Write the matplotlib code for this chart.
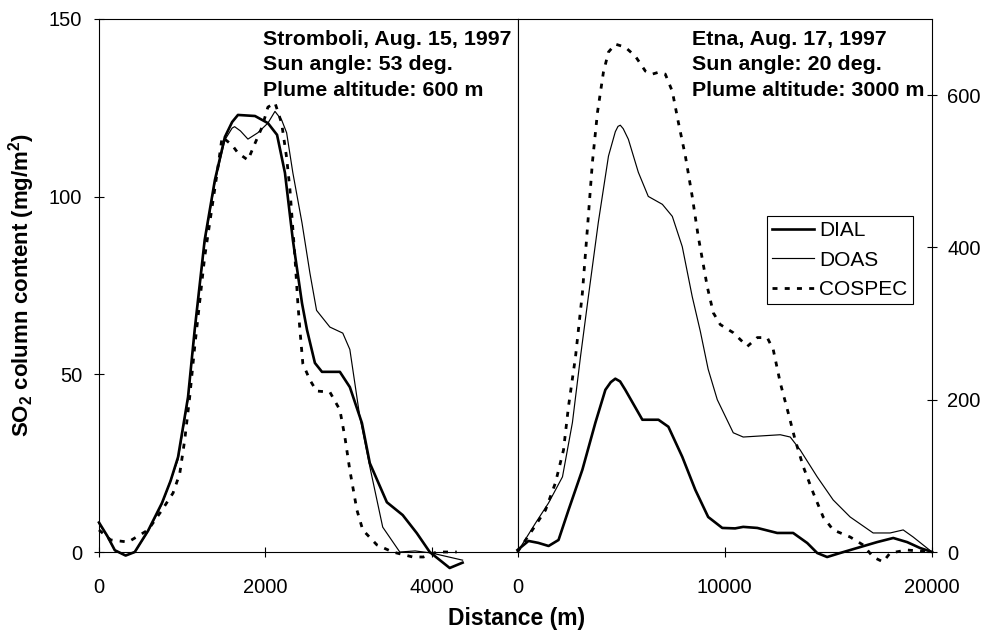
import matplotlib
matplotlib.use('Agg')
import matplotlib.pyplot as plt

plt.rcParams['font.family'] = ['Liberation Sans', 'DejaVu Sans']
plt.rcParams['mathtext.fontset'] = 'custom'
plt.rcParams['mathtext.rm'] = 'Liberation Sans'
plt.rcParams['mathtext.bf'] = 'Liberation Sans:bold'

# ---------------- data: Stromboli (left panel, mg/m2) ----------------
strom_dial_x = [0, 100, 190, 320, 430, 590, 757, 860, 950, 1070, 1150, 1270, 1393, 1513,
                1600, 1670, 1875, 2030, 2140, 2235, 2330, 2440, 2500, 2595, 2680, 2895,
                3015, 3160, 3255, 3460, 3650, 3820, 3975, 4215, 4370]
strom_dial_y = [8.3, 4.5, 0.5, -1.0, 0.0, 6.0, 13.8, 20.0, 26.7, 43.6, 62.5, 87.8, 104.7, 116.8,
                121.0, 123.0, 122.7, 120.7, 117.4, 106.7, 87.8, 70.0, 62.5, 53.2, 50.7, 50.7,
                46.4, 36.3, 25.0, 14.0, 10.4, 5.3, 0.0, -4.5, -3.0]

strom_doas_x = [0, 100, 190, 320, 430, 590, 757, 950, 1070, 1150, 1270, 1393, 1513, 1600,
                1630, 1700, 1790, 1910, 2030, 2115, 2195, 2255, 2330, 2440, 2535, 2615,
                2775, 2930, 3015, 3135, 3255, 3410, 3615, 3800, 4000, 4370]
strom_doas_y = [8.0, 4.3, 0.4, -1.0, 0.0, 5.8, 13.5, 26.0, 43.0, 62.0, 87.0, 104.0, 116.0, 119.3,
                119.7, 118.5, 116.2, 118.0, 120.7, 124.0, 121.6, 118.0, 106.7, 92.6, 78.5, 68.0,
                63.3, 61.6, 57.0, 38.0, 24.0, 7.0, 0.0, 0.3, -0.3, -2.3]

strom_cospec_x = [0, 140, 350, 590, 757, 890, 970, 1030, 1090, 1150, 1270, 1420, 1480, 1600,
                  1670, 1790, 1875, 1960, 2030, 2115, 2195, 2255, 2295, 2355, 2390, 2415,
                  2450, 2535, 2615, 2775, 2895, 2955, 3015, 3100, 3170, 3340, 3530, 3770,
                  3900, 4060, 4300]
strom_cospec_y = [6.2, 3.4, 2.8, 6.2, 11.8, 16.6, 22.0, 31.5, 43.6, 57.7, 83.0, 106.7, 116.8, 114.5,
                  112.3, 110.3, 115.0, 119.6, 125.2, 126.4, 120.7, 111.0, 102.0, 83.0, 70.0, 62.5,
                  53.0, 48.4, 45.3, 45.0, 40.0, 32.4, 23.0, 11.8, 6.2, 2.0, 0.0, -1.4,
                  -1.4, 0.0, 0.0]

# ---------------- data: Etna (right panel, mg/m2) ----------------
etna_dial_x = [0, 530, 1000, 1500, 1980, 2460, 3130, 3760, 4240, 4500, 4720, 4950, 5200, 6025, 6800,
               7280, 7950, 8580, 9200, 9880, 10500, 10890, 11570, 12530, 13300, 13980, 14460,
               14940, 15570, 16390, 17350, 18130, 18800, 19420, 20000]
etna_dial_y = [2.6, 14.5, 12.0, 7.9, 15.8, 55.0, 108.0, 170.0, 213.0, 223.0, 227.6, 224.0, 213.0, 173.7, 173.7,
               164.5, 125.0, 81.6, 46.0, 31.6, 31.0, 33.0, 31.6, 25.0, 25.0, 11.8, -1.3,
               -6.6, -1.3, 5.3, 13.0, 18.4, 13.0, 5.3, 0.0]

etna_doas_x = [0, 870, 1500, 2170, 2650, 3040, 3420, 3900, 4390, 4720, 4850, 4960, 5100, 5350, 5830,
               6310, 6990, 7470, 7950, 8430, 8820, 9200, 9640, 10410, 10890, 12680, 13160, 13640,
               14460, 15230, 16050, 17160, 17980, 18610, 19090, 20000]
etna_doas_y = [0.0, 38.0, 64.5, 98.7, 170.0, 256.6, 335.5, 433.0, 520.0, 552.0, 559.0, 560.5, 556.0, 542.0, 498.7,
               467.0, 456.6, 440.8, 401.0, 335.5, 290.0, 240.0, 200.0, 156.6, 151.0, 154.0, 151.0, 134.0,
               98.7, 68.4, 46.0, 25.0, 25.0, 29.0, 19.7, 0.0]

etna_cospec_x = [0, 720, 1350, 1830, 2220, 2460, 2800, 3130, 3370, 3615, 3860, 4145, 4390, 4720,
                 5200, 5690, 6170, 6500, 6800, 7130, 7470, 7760, 8100, 8430, 8720, 9160, 9450,
                 9785, 10410, 11090, 11570, 12050, 12340, 12680, 13060, 13400, 13790, 14270,
                 14750, 15230, 16050, 16680, 17160, 17640, 17980, 18800, 20000]
etna_cospec_y = [0.0, 29.0, 55.0, 90.8, 134.0, 191.0, 256.6, 340.0, 423.7, 512.0, 577.6, 630.0, 656.6, 667.0,
                 663.0, 651.0, 631.6, 627.6, 630.0, 627.6, 605.0, 564.5, 520.0, 467.0, 414.5, 348.0, 314.0,
                 298.7, 288.0, 270.0, 281.6, 281.6, 265.8, 222.0, 183.0, 147.0, 112.0, 77.6,
                 46.0, 29.0, 19.7, 9.2, -6.6, -13.0, -1.3, 2.6, 0.0]

series_names = ['DIAL', 'DOAS', 'COSPEC']
left_xticks = [0, 2000, 4000]
left_yticks = [0, 50, 100, 150]
right_xticks = [0, 10000, 20000]
right_yticks = [0, 200, 400, 600]
left_text = ['Stromboli, Aug. 15, 1997', 'Sun angle: 53 deg.', 'Plume altitude: 600 m']
right_text = ['Etna, Aug. 17, 1997', 'Sun angle: 20 deg.', 'Plume altitude: 3000 m']

# ---------------- figure ----------------
W, H = 983, 631
fig = plt.figure(figsize=(W / 100, H / 100), dpi=100)


def px_box(x0, x1, y_top, y_bot):
    return [x0 / W, 1 - y_bot / H, (x1 - x0) / W, (y_bot - y_top) / H]


ax1 = fig.add_axes(px_box(99, 517.5, 19, 552))
ax2 = fig.add_axes(px_box(517.5, 932, 19, 552))

styles = {
    'DIAL': dict(color='black', lw=1.9, ls='-'),
    'DOAS': dict(color='black', lw=0.85, ls='-'),
    'COSPEC': dict(color='black', lw=2.0, ls=(0, (1.8, 2.6))),
}

ax1.plot(strom_dial_x, strom_dial_y, clip_on=False, **styles['DIAL'])
ax1.plot(strom_doas_x, strom_doas_y, clip_on=False, **styles['DOAS'])
ax1.plot(strom_cospec_x, strom_cospec_y, clip_on=False, **styles['COSPEC'])

h1, = ax2.plot(etna_dial_x, etna_dial_y, clip_on=False, label='DIAL', **styles['DIAL'])
h2, = ax2.plot(etna_doas_x, etna_doas_y, clip_on=False, label='DOAS', **styles['DOAS'])
h3, = ax2.plot(etna_cospec_x, etna_cospec_y, clip_on=False, label='COSPEC', **styles['COSPEC'])

ax1.set_xlim(0, 5030)
ax1.set_ylim(0, 150)
ax2.set_xlim(0, 20000)
ax2.set_ylim(0, 700)

for ax in (ax1, ax2):
    for sp in ax.spines.values():
        sp.set_linewidth(0.8)
        sp.set_color('black')
    ax.tick_params(axis='x', direction='inout', length=7, width=0.8, pad=15, labelsize=14.5)

ax1.set_xticks(left_xticks)
ax1.set_yticks(left_yticks)
ax1.tick_params(axis='y', direction='inout', length=7, width=0.8, pad=8.7, labelsize=14.5)
ax2.set_xticks(right_xticks)
ax2.set_yticks(right_yticks)
ax2.yaxis.tick_right()
ax2.tick_params(axis='y', direction='inout', length=7, width=0.8, pad=7.3, labelsize=14.5)

# annotations
baselines = [45, 70.5, 95.5]
for txt, yb in zip(left_text, baselines):
    fig.text(263 / W, 1 - yb / H, txt, ha='left', va='baseline', fontsize=15.4, fontweight='bold')
for txt, yb in zip(right_text, baselines):
    fig.text(692 / W, 1 - yb / H, txt, ha='left', va='baseline', fontsize=15.4, fontweight='bold')

# axis labels
fig.text(22 / W, 1 - 285 / H, r'SO$_\mathbf{2}$ column content (mg/m$^\mathbf{2}$)',
         rotation=90, ha='center', va='center', fontsize=16, fontweight='bold')
fig.text(517 / W, 1 - 625 / H, 'Distance (m)', ha='center', va='baseline',
         fontsize=16.5, fontweight='bold')

leg = ax2.legend(handles=[h1, h2, h3], labels=series_names, loc='upper left',
                 bbox_to_anchor=(767 / W, 1 - 216 / H), bbox_transform=fig.transFigure,
                 borderaxespad=0, fontsize=15, frameon=True, fancybox=False,
                 edgecolor='black', framealpha=1, borderpad=0.25, handlelength=2.0,
                 handletextpad=0.25, labelspacing=0.5)
leg.get_frame().set_linewidth(0.8)

fig.savefig('out.png', dpi=100)
